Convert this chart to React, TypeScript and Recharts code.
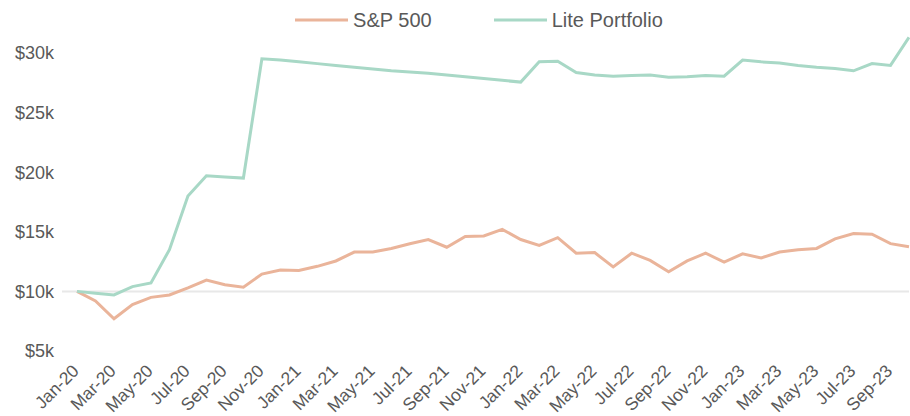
import React from 'react';
import {
  LineChart,
  Line,
  XAxis,
  YAxis,
  Legend,
  ReferenceLine,
} from 'recharts';

document.body.style.margin = '0';

const months = [
  'Jan-20', 'Feb-20', 'Mar-20', 'Apr-20', 'May-20', 'Jun-20', 'Jul-20', 'Aug-20', 'Sep-20', 'Oct-20', 'Nov-20', 'Dec-20',
  'Jan-21', 'Feb-21', 'Mar-21', 'Apr-21', 'May-21', 'Jun-21', 'Jul-21', 'Aug-21', 'Sep-21', 'Oct-21', 'Nov-21', 'Dec-21',
  'Jan-22', 'Feb-22', 'Mar-22', 'Apr-22', 'May-22', 'Jun-22', 'Jul-22', 'Aug-22', 'Sep-22', 'Oct-22', 'Nov-22', 'Dec-22',
  'Jan-23', 'Feb-23', 'Mar-23', 'Apr-23', 'May-23', 'Jun-23', 'Jul-23', 'Aug-23', 'Sep-23', 'Oct-23',
];

// values in $k
const sp500 = [
  10.0, 9.2, 7.7, 8.9, 9.5, 9.7, 10.3, 10.95, 10.55, 10.35, 11.45, 11.8,
  11.75, 12.1, 12.55, 13.3, 13.3, 13.6, 14.0, 14.35, 13.7, 14.6, 14.65, 15.2,
  14.35, 13.85, 14.5, 13.2, 13.25, 12.05, 13.2, 12.6, 11.65, 12.55, 13.2, 12.45,
  13.15, 12.8, 13.3, 13.5, 13.6, 14.4, 14.85, 14.8, 14.0, 13.75,
];

const litePortfolio = [
  10.0, 9.85, 9.7, 10.4, 10.7, 13.5, 18.0, 19.7, 19.6, 19.5, 29.5, 29.4,
  29.25, 29.1, 28.95, 28.8, 28.65, 28.5, 28.4, 28.3, 28.15, 28.0, 27.85, 27.7,
  27.55, 29.25, 29.3, 28.35, 28.15, 28.05, 28.1, 28.15, 27.95, 28.0, 28.1, 28.05,
  29.4, 29.25, 29.15, 28.95, 28.8, 28.7, 28.5, 29.1, 28.95, 31.3,
];

const yTicks = [5000, 10000, 15000, 20000, 25000, 30000];

const seriesNames = ['S&P 500', 'Lite Portfolio'];
const seriesColors = ['#EAB49A', '#A8D8C6'];

const data = months.map((m, i) => ({
  month: m,
  sp: sp500[i] * 1000,
  lite: litePortfolio[i] * 1000,
}));

const FONT = '"Liberation Sans", Arial, Helvetica, sans-serif';
const TEXT = '#595959';

// rotated month labels, anchored at their end
const MonthTick = (props: any) => {
  const { x, y, payload } = props;
  return (
    <g transform={`translate(${x + 3},${y + 13})`}>
      <text
        x={0}
        y={0}
        textAnchor="end"
        transform="rotate(-45)"
        fill={TEXT}
        fontSize={17.5}
        fontFamily={FONT}
      >
        {payload.value}
      </text>
    </g>
  );
};

const TopLegend = () => (
  <div
    style={{
      display: 'flex',
      justifyContent: 'center',
      alignItems: 'center',
      paddingLeft: 48,
      fontFamily: FONT,
      fontSize: 20,
      color: TEXT,
      height: 40,
    }}
  >
    {seriesNames.map((name, i) => (
      <div key={name} style={{ display: 'flex', alignItems: 'center', marginRight: i === 0 ? 62 : 0 }}>
        <svg width={53} height={6} style={{ marginRight: 5 }}>
          <line x1={0} y1={3} x2={53} y2={3} stroke={seriesColors[i]} strokeWidth={3} />
        </svg>
        <span>{name}</span>
      </div>
    ))}
  </div>
);

export default function App() {
  return (
    <LineChart
      width={910}
      height={416}
      data={data}
      margin={{ top: 0, right: 1, left: 0, bottom: 0 }}
    >
      <Legend
        verticalAlign="top"
        height={35}
        content={<TopLegend />}
        wrapperStyle={{ left: 0, width: 910, top: 0 }}
      />
      <XAxis
        dataKey="month"
        interval={1}
        tick={<MonthTick />}
        tickLine={false}
        axisLine={false}
        padding={{ left: 15, right: 0 }}
        height={65}
      />
      <YAxis
        domain={[5000, 31500]}
        ticks={yTicks}
        width={62}
        tickLine={false}
        axisLine={false}
        tickFormatter={(v: number) => `$${v / 1000}k`}
        tick={{ fill: TEXT, fontSize: 18, fontFamily: FONT }}
        tickMargin={2}
      />
      <ReferenceLine y={10000} stroke="#E8E8E8" strokeWidth={2} />
      <Line
        type="linear"
        dataKey="sp"
        name={seriesNames[0]}
        stroke={seriesColors[0]}
        strokeWidth={3}
        dot={false}
        isAnimationActive={false}
      />
      <Line
        type="linear"
        dataKey="lite"
        name={seriesNames[1]}
        stroke={seriesColors[1]}
        strokeWidth={3}
        dot={false}
        isAnimationActive={false}
      />
    </LineChart>
  );
}
